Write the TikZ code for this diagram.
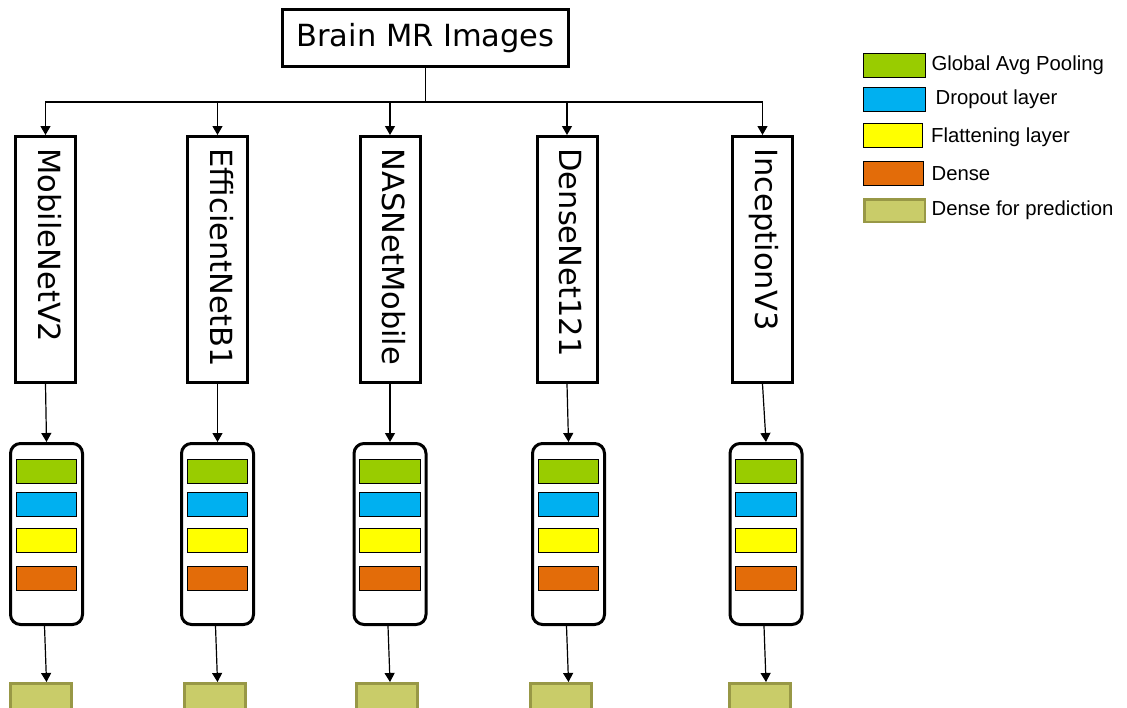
\documentclass[tikz,border=0pt]{standalone}
\usepackage{fontspec}
\setmainfont{Liberation Sans}
\newfontfamily\verdana{DejaVu Sans}
\usetikzlibrary{arrows.meta,positioning}

\definecolor{gapgreen}{HTML}{99CC00}
\definecolor{dropblue}{HTML}{00B0F0}
\definecolor{flatyellow}{HTML}{FFFF00}
\definecolor{denseorange}{HTML}{E36C09}
\definecolor{predfill}{HTML}{C9CC69}
\definecolor{predline}{HTML}{989846}

\begin{document}
\begin{tikzpicture}[x=1pt,y=-1pt,
  arr/.style={-{Triangle[width=10pt,length=9pt]},line width=1.2pt},
  model/.style={draw,line width=3pt,rotate=-90,minimum width=246pt,minimum height=60pt,
    inner xsep=12pt,text width=222pt,align=left,text height=22pt,text depth=7pt,
    font=\verdana\fontsize{30.5}{36}\selectfont},
  container/.style={draw,line width=3pt,rounded corners=10pt,minimum width=72pt,minimum height=181pt},
  layer/.style={draw,line width=1.3pt,fill=#1,minimum width=60.5pt,minimum height=23.7pt},
  pred/.style={draw=predline,fill=predfill,line width=3pt,minimum width=61pt,minimum height=27pt},
  keytext/.style={inner sep=0pt,anchor=west,font=\fontsize{20.3}{24}\selectfont}]
\useasboundingbox (0,0) rectangle (1127,707);

% input
\node[draw,line width=3pt,minimum width=286pt,minimum height=57pt,
  font=\verdana\fontsize{30.5}{36}\selectfont] (brain) at (425.5,38) {Brain MR Images};
\coordinate (bus) at ([yshift=-34pt]brain.south);
\draw[line width=1.2pt] (brain.south) -- (bus);

% one column per network
\foreach \i/\mx/\cx/\px/\name in {1/45.5/46.5/41/MobileNetV2,2/217.5/217.5/215/EfficientNetB1,
  3/390/390/387/NASNetMobile,4/567/568.5/560.5/DenseNet121,5/762.5/766/760/InceptionV3}{
  \node[model] (m\i) at (\mx,259.5) {\name};
  \node[container] (c\i) at (\cx,534) {};
  \node[layer=gapgreen] (g\i) at (\cx,471.5) {};
  \node[layer=dropblue] (d\i) at (\cx,504.5) {};
  \node[layer=flatyellow] (f\i) at (\cx,540.5) {};
  \node[layer=denseorange] (o\i) at (\cx,578.5) {};
  \node[pred] (p\i) at (\px,697) {};
  \draw[arr] (bus) -| (m\i.west);
  \draw[arr] (m\i.east) -- (c\i.north);
  \draw[arr] ([xshift=-2pt]c\i.south) -- (c\i.south |- p\i.north);
}

% legend
\node[layer=gapgreen,minimum width=61.5pt] (k1) at (894.5,65.5) {};
\node[layer=dropblue,minimum width=61.5pt] (k2) at (894.5,99.5) {};
\node[layer=flatyellow,minimum width=58.5pt] (k3) at (893,135.5) {};
\node[layer=denseorange,minimum width=59.5pt] (k4) at (893.5,173.5) {};
\node[pred,line width=2.5pt,minimum width=60.5pt,minimum height=22.5pt] (k5) at (894.5,210.5) {};
\node[keytext,right=5.5pt of k1] (kt1) {Global Avg Pooling};
\node[keytext,right=9.5pt of k2] (kt2) {Dropout layer};
\node[keytext,right=8pt of k3,yshift=-2pt] (kt3) {Flattening layer};
\node[keytext,right=7.5pt of k4] (kt4) {Dense};
\node[keytext,right=5.5pt of k5] (kt5) {Dense for prediction};
\end{tikzpicture}
\end{document}
